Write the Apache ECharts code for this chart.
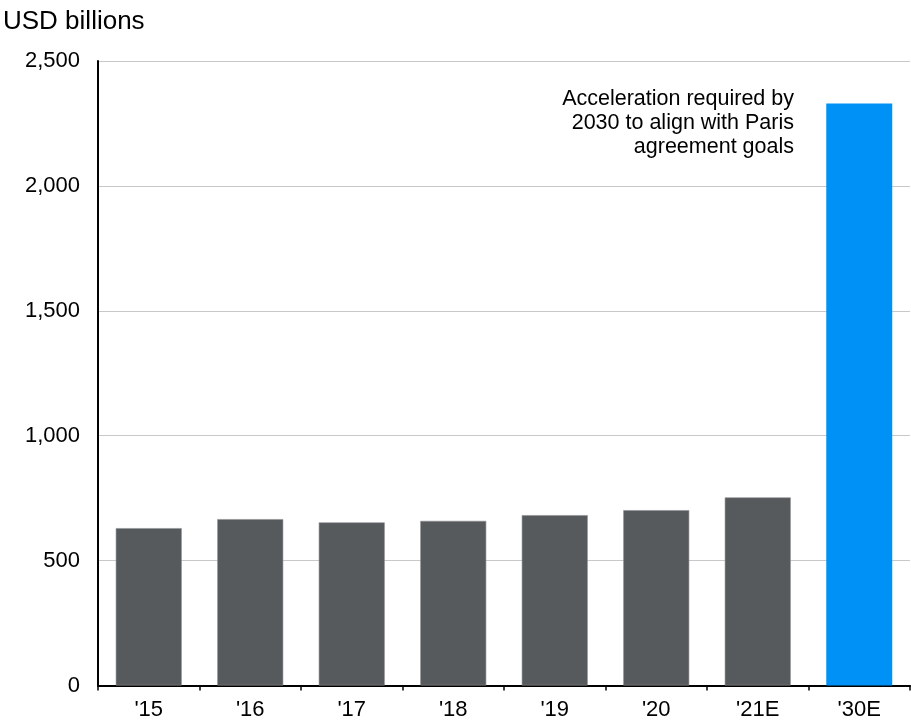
<!DOCTYPE html>
<html>
<head>
<meta charset="utf-8">
<style>
  html, body { margin: 0; padding: 0; background: #ffffff; }
  #chart { width: 911px; height: 725px; }
</style>
<script src="https://cdn.jsdelivr.net/npm/echarts@6/dist/echarts.min.js"></script>
</head>
<body>
<div id="chart"></div>
<script>
// Annual investment, USD billions
const categories = ["'15", "'16", "'17", "'18", "'19", "'20", "'21E", "'30E"];
const investment = [630, 666, 653, 659, 682, 702, 753, 2330];
const highlighted = ["'30E"];
const yTicks = { min: 0, max: 2500, interval: 500 };
const unitLabel = 'USD billions';
const noteLines = ['Acceleration required by', '2030 to align with Paris', 'agreement goals'];

const FONT = '"Liberation Sans", Arial, Helvetica, sans-serif';
const GREY = '#575a5d';
const BLUE = '#0091f7';

const chart = echarts.init(document.getElementById('chart'), null, { renderer: 'canvas' });

const barData = categories.map((c, i) => ({
  value: investment[i],
  itemStyle: highlighted.includes(c)
    ? { color: BLUE, borderWidth: 0 }
    : { color: GREY, borderColor: '#8d8f91', borderWidth: 0.6 }
}));

chart.setOption({
  animation: false,
  backgroundColor: '#ffffff',
  textStyle: { fontFamily: FONT },
  title: {
    text: unitLabel,
    left: 3,
    top: 9,
    padding: 0,
    textStyle: { fontFamily: FONT, fontSize: 26, fontWeight: 'normal', color: '#000000' }
  },
  grid: { left: 98, right: 1, top: 61, bottom: 39.5, containLabel: false },
  xAxis: {
    type: 'category',
    data: categories,
    axisLine: { show: true, lineStyle: { color: '#000000', width: 2 } },
    axisTick: { show: true, length: 5, lineStyle: { color: '#000000', width: 1.5 } },
    axisLabel: { color: '#000000', fontFamily: FONT, fontSize: 22, margin: 13 },
    splitLine: { show: false }
  },
  yAxis: {
    type: 'value',
    min: yTicks.min,
    max: yTicks.max,
    interval: yTicks.interval,
    axisLine: { show: true, lineStyle: { color: '#000000', width: 2 } },
    axisTick: { show: false },
    axisLabel: {
      color: '#000000',
      fontFamily: FONT,
      fontSize: 22,
      margin: 18,
      formatter: v => v.toLocaleString('en-US')
    },
    splitLine: { show: true, lineStyle: { color: '#c8c8c8', width: 1 } }
  },
  series: [{
    type: 'bar',
    data: barData,
    barCategoryGap: '35%',
    z: 3
  }],
  // Right-aligned note beside the 2030 bar
  graphic: noteLines.map((line, i) => ({
    type: 'text',
    x: 794,
    y: 88 + i * 24,
    style: {
      text: line,
      fontFamily: FONT,
      fontSize: 21.5,
      fill: '#000000',
      align: 'right',
      verticalAlign: 'top'
    }
  }))
});
</script>
</body>
</html>
